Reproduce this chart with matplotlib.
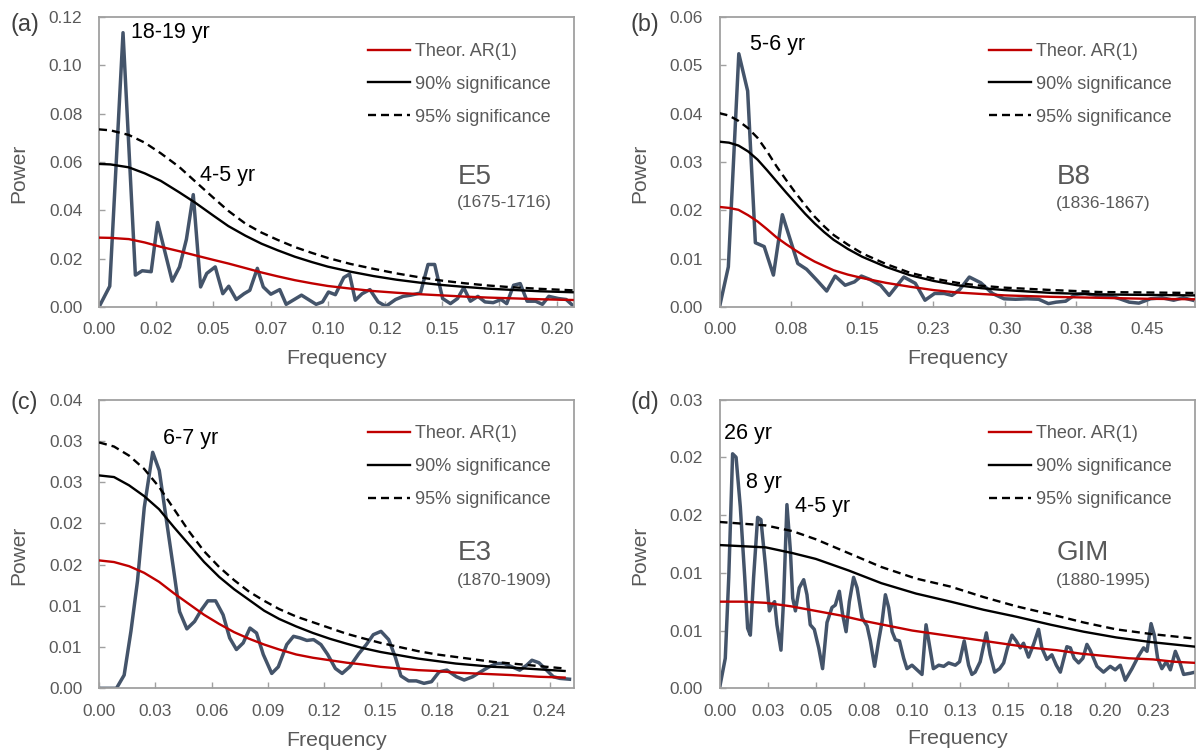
import matplotlib

matplotlib.use("Agg")
import matplotlib.pyplot as plt
import numpy as np

plt.rcParams["font.family"] = ["Liberation Sans", "DejaVu Sans"]

# ---- panel (a): E5 (1675-1716) ----
a_freq = [0, 0.0047, 0.0105, 0.0159, 0.0189, 0.0228, 0.0256, 0.0320, 0.0352, 0.0382,
          0.0412, 0.0444, 0.0471, 0.0508, 0.0541, 0.0567, 0.0600, 0.0634, 0.0659, 0.0692,
          0.0718, 0.0751, 0.0790, 0.0818, 0.0885, 0.0949, 0.0977, 0.1003, 0.1033, 0.1070,
          0.1095, 0.1120, 0.1150, 0.1184, 0.1220, 0.1254, 0.1296, 0.1329, 0.1363, 0.1405,
          0.1438, 0.1467, 0.1502, 0.1536, 0.1567, 0.1594, 0.1623, 0.1656, 0.1687, 0.1723,
          0.1757, 0.1782, 0.1812, 0.1841, 0.1871, 0.1908, 0.1938, 0.1966, 0.2008, 0.2042,
          0.2070]
a_power = [0, 0.0086, 0.1135, 0.0132, 0.0150, 0.0146, 0.0350, 0.0107, 0.0166, 0.0280,
           0.0465, 0.0083, 0.0139, 0.0166, 0.0055, 0.0086, 0.0031, 0.0055, 0.0069, 0.0160,
           0.0083, 0.0053, 0.0072, 0.0011, 0.0049, 0.0011, 0.0021, 0.0062, 0.0051, 0.0122,
           0.0136, 0.0028, 0.0055, 0.0072, 0.0021, 0.0003, 0.0031, 0.0044, 0.0049, 0.0058,
           0.0176, 0.0176, 0.0035, 0.0014, 0.0035, 0.0080, 0.0024, 0.0044, 0.0021, 0.0018,
           0.0031, 0.0014, 0.0090, 0.0097, 0.0024, 0.0024, 0.0011, 0.0044, 0.0035, 0.0031,
           0.0007]
a_line_freq = [0, 0.005, 0.013, 0.020, 0.027, 0.035, 0.042, 0.050, 0.0565, 0.064, 0.071,
               0.078, 0.0856, 0.093, 0.100, 0.110, 0.120, 0.130, 0.140, 0.150, 0.160,
               0.170, 0.180, 0.193, 0.207]
a_ar = [0.0287, 0.0286, 0.0281, 0.0267, 0.0249, 0.0231, 0.0214, 0.0195, 0.0180, 0.0161,
        0.0143, 0.0127, 0.0111, 0.0098, 0.0087, 0.0076, 0.0066, 0.0059, 0.0053, 0.0048,
        0.0043, 0.0039, 0.0036, 0.0032, 0.0029]
a_sig90 = [0.0592, 0.0590, 0.0578, 0.0553, 0.0522, 0.0475, 0.0432, 0.0378, 0.0335, 0.0295,
           0.0262, 0.0235, 0.0208, 0.0186, 0.0167, 0.0146, 0.0128, 0.0113, 0.0101, 0.0091,
           0.0083, 0.0076, 0.0071, 0.0065, 0.0061]
a_sig95 = [0.0735, 0.0731, 0.0712, 0.0680, 0.0636, 0.0580, 0.0520, 0.0452, 0.0398, 0.0345,
           0.0308, 0.0278, 0.0248, 0.0224, 0.0203, 0.0178, 0.0158, 0.0139, 0.0123, 0.0109,
           0.0098, 0.0089, 0.0082, 0.0075, 0.0069]
a_xlabels = ["0.00", "0.02", "0.05", "0.07", "0.10", "0.12", "0.15", "0.17", "0.20"]
a_ylabels = ["0.00", "0.02", "0.04", "0.06", "0.08", "0.10", "0.12"]

# ---- panel (b): B8 (1836-1867) ----
b_freq = [0, 0.0093, 0.0203, 0.0296, 0.0377, 0.0470, 0.0567, 0.0661, 0.0823, 0.0916,
          0.1026, 0.1127, 0.1216, 0.1321, 0.1419, 0.1492, 0.1581, 0.1694, 0.1784, 0.1938,
          0.2059, 0.2161, 0.2262, 0.2363, 0.2444, 0.2525, 0.2627, 0.2748, 0.2870, 0.2992,
          0.3113, 0.3235, 0.3356, 0.3458, 0.3539, 0.3640, 0.3741, 0.3843, 0.3964, 0.4086,
          0.4208, 0.4309, 0.4410, 0.4532, 0.4653, 0.4775, 0.4876, 0.4978]
b_power = [0, 0.0083, 0.0524, 0.0447, 0.0133, 0.0125, 0.0066, 0.0191, 0.0090, 0.0078,
           0.0055, 0.0033, 0.0064, 0.0045, 0.0052, 0.0064, 0.0057, 0.0045, 0.0024, 0.0062,
           0.0049, 0.0014, 0.0028, 0.0028, 0.0024, 0.0036, 0.0062, 0.0050, 0.0028, 0.0017,
           0.0016, 0.0017, 0.0016, 0.0007, 0.0010, 0.0012, 0.0026, 0.0028, 0.0024, 0.0024,
           0.0017, 0.0010, 0.0008, 0.0017, 0.0019, 0.0014, 0.0019, 0.0014]
b_line_freq = [0, 0.01, 0.02, 0.03, 0.04, 0.05, 0.06, 0.07, 0.08, 0.09, 0.10, 0.11, 0.12,
               0.135, 0.15, 0.175, 0.20, 0.225, 0.25, 0.275, 0.30, 0.35, 0.40, 0.45, 0.50]
b_ar = [0.0207, 0.0205, 0.0201, 0.0190, 0.0177, 0.0161, 0.0144, 0.0130, 0.0117, 0.0105,
        0.0094, 0.0085, 0.0076, 0.0067, 0.0060, 0.0050, 0.0042, 0.0035, 0.0030, 0.0027,
        0.0024, 0.0021, 0.0019, 0.0017, 0.0016]
b_sig90 = [0.0342, 0.0340, 0.0334, 0.0322, 0.0305, 0.0283, 0.0260, 0.0237, 0.0215, 0.0193,
           0.0173, 0.0155, 0.0139, 0.0120, 0.0104, 0.0083, 0.0066, 0.0054, 0.0045, 0.0039,
           0.0035, 0.0029, 0.0026, 0.0025, 0.0024]
b_sig95 = [0.0401, 0.0396, 0.0385, 0.0370, 0.0350, 0.0322, 0.0291, 0.0263, 0.0236, 0.0211,
           0.0187, 0.0167, 0.0149, 0.0129, 0.0111, 0.0089, 0.0071, 0.0059, 0.0050, 0.0044,
           0.0040, 0.0035, 0.0031, 0.0030, 0.0029]
b_xlabels = ["0.00", "0.08", "0.15", "0.23", "0.30", "0.38", "0.45"]
b_ylabels = ["0.00", "0.01", "0.02", "0.03", "0.04", "0.05", "0.06"]

# ---- panel (c): E3 (1870-1909) ----
c_freq = [0, 0.0093, 0.0134, 0.0170, 0.0205, 0.0241, 0.0286, 0.0321, 0.0357, 0.0396,
          0.0429, 0.0468, 0.0509, 0.0545, 0.0580, 0.0621, 0.0661, 0.0696, 0.0732, 0.0768,
          0.0804, 0.0839, 0.0875, 0.0920, 0.0955, 0.1000, 0.1036, 0.1071, 0.1107, 0.1143,
          0.1182, 0.1218, 0.1259, 0.1295, 0.1335, 0.1384, 0.1424, 0.1461, 0.1502, 0.1543,
          0.1578, 0.1608, 0.1649, 0.1690, 0.1731, 0.1771, 0.1812, 0.1853, 0.1904, 0.1945,
          0.1990, 0.2033, 0.2078, 0.2118, 0.2159, 0.2200, 0.2241, 0.2278, 0.2306, 0.2343,
          0.2384, 0.2420, 0.2455, 0.2506]
c_power = [0, 0, 0.0016, 0.0069, 0.0130, 0.0219, 0.0286, 0.0264, 0.0207, 0.0146,
           0.0093, 0.0072, 0.0081, 0.0095, 0.0106, 0.0106, 0.0089, 0.0061, 0.0047, 0.0055,
           0.0073, 0.0067, 0.0041, 0.0018, 0.0026, 0.0053, 0.0063, 0.0061, 0.0058, 0.0059,
           0.0053, 0.0041, 0.0024, 0.0018, 0.0026, 0.0042, 0.0053, 0.0065, 0.0069, 0.0059,
           0.0038, 0.0015, 0.0009, 0.0009, 0.0006, 0.0008, 0.0020, 0.0022, 0.0014, 0.0010,
           0.0014, 0.0020, 0.0026, 0.0030, 0.0030, 0.0026, 0.0022, 0.0028, 0.0034, 0.0031,
           0.0022, 0.0014, 0.0012, 0.0011]
c_line_freq = [0, 0.008, 0.016, 0.024, 0.032, 0.040, 0.048, 0.056, 0.064, 0.072, 0.080,
               0.088, 0.096, 0.105, 0.114, 0.123, 0.132, 0.140, 0.150, 0.160, 0.170,
               0.180, 0.190, 0.200, 0.210, 0.220, 0.234, 0.248]
c_ar = [0.0155, 0.0153, 0.0148, 0.0140, 0.0129, 0.0115, 0.0102, 0.0089, 0.0078, 0.0068,
        0.0060, 0.0053, 0.0047, 0.0041, 0.0037, 0.0034, 0.0031, 0.0029, 0.0026, 0.0024,
        0.0022, 0.0021, 0.0019, 0.0018, 0.0017, 0.0016, 0.0014, 0.0013]
c_sig90 = [0.0258, 0.0256, 0.0246, 0.0233, 0.0217, 0.0195, 0.0174, 0.0153, 0.0135, 0.0120,
           0.0107, 0.0094, 0.0084, 0.0075, 0.0067, 0.0060, 0.0054, 0.0049, 0.0044, 0.0040,
           0.0036, 0.0033, 0.0030, 0.0028, 0.0026, 0.0025, 0.0023, 0.0021]
c_sig95 = [0.0298, 0.0293, 0.0282, 0.0266, 0.0244, 0.0217, 0.0190, 0.0166, 0.0147, 0.0131,
           0.0117, 0.0106, 0.0096, 0.0087, 0.0080, 0.0073, 0.0066, 0.0061, 0.0055, 0.0050,
           0.0045, 0.0041, 0.0038, 0.0035, 0.0032, 0.0030, 0.0027, 0.0024]
c_xlabels = ["0.00", "0.03", "0.06", "0.09", "0.12", "0.15", "0.18", "0.21", "0.24"]
c_ylabels = ["0.00", "0.01", "0.01", "0.02", "0.02", "0.03", "0.03", "0.04"]

# ---- panel (d): GIM (1880-1995) ----
d_freq = [0, 0.0030, 0.0048, 0.0068, 0.0086, 0.0108, 0.0131, 0.0146, 0.0160, 0.0177,
          0.0198, 0.0215, 0.0238, 0.0259, 0.0272, 0.0286, 0.0298, 0.0319, 0.0333, 0.0350,
          0.0368, 0.0380, 0.0394, 0.0414, 0.0437, 0.0454, 0.0471, 0.0492, 0.0515, 0.0535,
          0.0558, 0.0584, 0.0601, 0.0622, 0.0639, 0.0657, 0.0674, 0.0696, 0.0714, 0.0740,
          0.0766, 0.0783, 0.0805, 0.0826, 0.0844, 0.0861, 0.0878, 0.0896, 0.0913, 0.0934,
          0.0956, 0.0973, 0.0999, 0.1025, 0.1051, 0.1072, 0.1110, 0.1138, 0.1164, 0.1189,
          0.1224, 0.1246, 0.1270, 0.1293, 0.1310, 0.1327, 0.1353, 0.1385, 0.1405, 0.1428,
          0.1454, 0.1475, 0.1495, 0.1518, 0.1540, 0.1561, 0.1578, 0.1604, 0.1630, 0.1656,
          0.1673, 0.1699, 0.1725, 0.1748, 0.1769, 0.1803, 0.1821, 0.1841, 0.1864, 0.1886,
          0.1907, 0.1924, 0.1959, 0.1993, 0.2028, 0.2054, 0.2080, 0.2106, 0.2141, 0.2175,
          0.2201, 0.2219, 0.2240, 0.2257, 0.2274, 0.2296, 0.2319, 0.2340, 0.2366, 0.2388,
          0.2409, 0.2443, 0.2469]
d_power = [0, 0.0026, 0.0096, 0.0203, 0.0200, 0.0157, 0.0096, 0.0052, 0.0046, 0.0096,
           0.0148, 0.0146, 0.0107, 0.0067, 0.0072, 0.0075, 0.0055, 0.0033, 0.0078, 0.0159,
           0.0119, 0.0078, 0.0067, 0.0087, 0.0094, 0.0081, 0.0055, 0.0051, 0.0035, 0.0017,
           0.0057, 0.0070, 0.0072, 0.0084, 0.0064, 0.0049, 0.0075, 0.0096, 0.0087, 0.0061,
           0.0054, 0.0041, 0.0019, 0.0041, 0.0058, 0.0081, 0.0070, 0.0049, 0.0042, 0.0041,
           0.0026, 0.0017, 0.0020, 0.0016, 0.0012, 0.0055, 0.0017, 0.0020, 0.0019, 0.0022,
           0.0020, 0.0023, 0.0041, 0.0020, 0.0012, 0.0014, 0.0023, 0.0048, 0.0029, 0.0014,
           0.0017, 0.0022, 0.0035, 0.0046, 0.0041, 0.0035, 0.0039, 0.0027, 0.0038, 0.0051,
           0.0035, 0.0025, 0.0029, 0.0020, 0.0014, 0.0036, 0.0035, 0.0026, 0.0022, 0.0026,
           0.0038, 0.0033, 0.0019, 0.0014, 0.0019, 0.0016, 0.0020, 0.0007, 0.0017, 0.0028,
           0.0035, 0.0032, 0.0056, 0.0046, 0.0026, 0.0017, 0.0023, 0.0016, 0.0032, 0.0023,
           0.0012, 0.0013, 0.0014]
d_ar_freq = [0, 0.012, 0.024, 0.037, 0.050, 0.063, 0.076, 0.088, 0.100, 0.1125, 0.125,
             0.1375, 0.150, 0.1625, 0.175, 0.1875, 0.200, 0.2125, 0.225, 0.236, 0.247]
d_ar = [0.0075, 0.0075, 0.0074, 0.0071, 0.0067, 0.0063, 0.0058, 0.0054, 0.0050, 0.0047,
        0.0044, 0.0041, 0.0038, 0.0035, 0.0033, 0.0030, 0.0028, 0.0026, 0.0025, 0.0023,
        0.0022]
d_sig_freq = [0, 0.024, 0.038, 0.050, 0.067, 0.084, 0.102, 0.120, 0.137, 0.154, 0.172,
              0.189, 0.206, 0.224, 0.247]
d_sig90 = [0.0124, 0.0122, 0.0117, 0.0112, 0.0102, 0.0091, 0.0082, 0.0075, 0.0068, 0.0062,
           0.0055, 0.0049, 0.0044, 0.0040, 0.0036]
d_sig95 = [0.0144, 0.0141, 0.0136, 0.0129, 0.0117, 0.0105, 0.0095, 0.0088, 0.0079, 0.0071,
           0.0064, 0.0057, 0.0051, 0.0047, 0.0043]
d_xlabels = ["0.00", "0.03", "0.05", "0.08", "0.10", "0.13", "0.15", "0.18", "0.20", "0.23"]
d_ylabels = ["0.00", "0.01", "0.01", "0.02", "0.02", "0.03"]

SPEC_COLOR = "#44546A"
AR_COLOR = "#C00000"
TEXT_GREY = "#595959"
FRAME_GREY = "#A0A0A0"
W, H = 1198, 754


def px_rect(left, top, right, bottom):
    return [left / W, 1 - bottom / H, (right - left) / W, (bottom - top) / H]


def draw_panel(fig, rect, letter, letter_xy, spec, ar, sig90, sig95, xstep, xlabels,
               xmax, ystep, ylabels, site, years, site_xy, years_xy, notes, xlabel_y):
    ax = fig.add_axes(rect)
    ax.plot(spec[0], spec[1], color=SPEC_COLOR, lw=2.5, solid_joinstyle="round", zorder=2)
    ax.plot(ar[0], ar[1], color=AR_COLOR, lw=1.7, label="Theor. AR(1)", zorder=3)
    ax.plot(sig90[0], sig90[1], color="black", lw=1.7, label="90% significance", zorder=3)
    ax.plot(sig95[0], sig95[1], color="black", lw=1.7, dashes=(3.4, 2.1),
            label="95% significance", zorder=3)

    ax.set_xlim(0, xmax)
    ax.set_ylim(0, ystep * (len(ylabels) - 1))
    ax.set_xticks(np.arange(len(xlabels)) * xstep, xlabels)
    ax.set_yticks(np.arange(len(ylabels)) * ystep, ylabels)
    ax.tick_params(direction="in", length=4, width=1, color=FRAME_GREY,
                   labelsize=12.4, labelcolor=TEXT_GREY)
    ax.tick_params(axis="x", pad=11)
    ax.tick_params(axis="y", pad=12)
    for sp in ax.spines.values():
        sp.set_color(FRAME_GREY)
        sp.set_linewidth(1.3)

    ax.set_xlabel("Frequency", fontsize=15.3, color=TEXT_GREY, va="center")
    ax.xaxis.set_label_coords(0.5, xlabel_y)
    ax.set_ylabel("Power", fontsize=15, color=TEXT_GREY, va="center", ha="center")
    ax.yaxis.set_label_coords(-0.168, 0.46)

    ax.legend(loc="upper left", bbox_to_anchor=(0.567, 0.91), frameon=False, fontsize=13,
              handlelength=2.31, handletextpad=0.28, labelspacing=0.87, borderpad=0,
              borderaxespad=0, labelcolor=TEXT_GREY)

    ax.text(site_xy[0], site_xy[1], site, transform=ax.transAxes, fontsize=20,
            color=TEXT_GREY, ha="left", va="center")
    ax.text(years_xy[0], years_xy[1], years, transform=ax.transAxes, fontsize=12.5,
            color=TEXT_GREY, ha="left", va="center")
    for label, fx, py in notes:
        ax.text(fx, py, label, fontsize=15.5, color="black", ha="left", va="center")

    fig.text(letter_xy[0] / W, 1 - letter_xy[1] / H, letter, fontsize=16.8,
             color="#404040", ha="left", va="center")
    return ax


def main() -> None:
    fig = plt.figure(figsize=(W / 100, H / 100), dpi=100)

    draw_panel(fig, px_rect(99, 17, 574, 307), "(a)", (11, 24),
               (a_freq, a_power), (a_line_freq, a_ar), (a_line_freq, a_sig90),
               (a_line_freq, a_sig95), 0.025, a_xlabels, 0.2076, 0.02, a_ylabels,
               "E5", "(1675-1716)", (0.755, 0.449), (0.753, 0.359),
               [("18-19 yr", 0.014, 0.1134), ("4-5 yr", 0.0441, 0.0543)], -0.178)

    draw_panel(fig, px_rect(719.5, 17, 1195, 307), "(b)", (631, 24),
               (b_freq, b_power), (b_line_freq, b_ar), (b_line_freq, b_sig90),
               (b_line_freq, b_sig95), 0.075, b_xlabels, 0.5, 0.01, b_ylabels,
               "B8", "(1836-1867)", (0.709, 0.449), (0.707, 0.357),
               [("5-6 yr", 0.0316, 0.0543)], -0.178)

    draw_panel(fig, px_rect(99, 399.5, 574, 688.3), "(c)", (11, 403),
               (c_freq, c_power), (c_line_freq, c_ar), (c_line_freq, c_sig90),
               (c_line_freq, c_sig95), 0.03, c_xlabels, 0.253, 0.005, c_ylabels,
               "E3", "(1870-1909)", (0.755, 0.47), (0.753, 0.373),
               [("6-7 yr", 0.034, 0.0303)], -0.180)

    draw_panel(fig, px_rect(719.5, 399.5, 1195, 688.3), "(d)", (631, 403),
               (d_freq, d_power), (d_ar_freq, d_ar), (d_sig_freq, d_sig90),
               (d_sig_freq, d_sig95), 0.025, d_xlabels, 0.2468, 0.005, d_ylabels,
               "GIM", "(1880-1995)", (0.709, 0.47), (0.707, 0.373),
               [("26 yr", 0.0025, 0.0221), ("8 yr", 0.0135, 0.0178),
                ("4-5 yr", 0.039, 0.0157)], -0.175)

    fig.savefig("out.png", dpi=100)
    plt.close(fig)


if __name__ == "__main__":
    main()
